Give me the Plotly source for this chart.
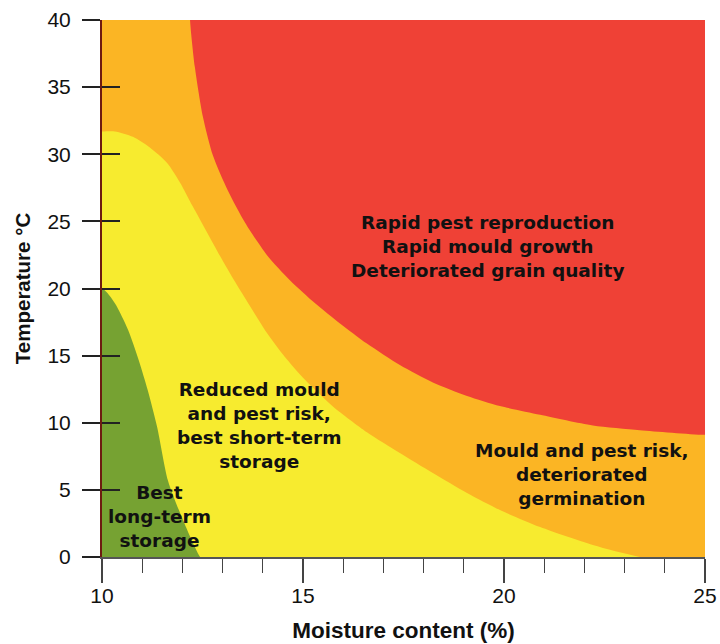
import plotly.graph_objects as go

# Zone boundaries (moisture %, temperature °C)
green_x = [10.0, 10.32, 10.65, 10.92, 11.14, 11.37, 11.64, 11.94, 12.44]
green_y = [20.0, 18.9, 16.9, 14.6, 12.4, 9.7, 5.7, 3.3, 0.0]

yellow_x = [10.0, 10.32, 10.77, 11.19, 11.62, 11.94, 12.26, 12.59, 12.94, 13.31, 13.68,
            14.10, 14.55, 15.05, 15.75, 16.59, 17.41, 18.23, 19.08, 19.90, 20.90, 22.21, 23.38]
yellow_y = [31.7, 31.7, 31.3, 30.5, 29.35, 27.9, 26.1, 24.3, 22.4, 20.5, 18.7,
            16.7, 14.9, 13.2, 11.2, 9.3, 7.75, 6.26, 4.77, 3.50, 2.23, 0.89, 0.0]

red_x = [12.19, 12.31, 12.51, 12.76, 13.13, 13.56, 14.10, 14.68, 15.30, 15.92, 16.59,
         17.41, 18.23, 19.08, 19.90, 20.90, 22.21, 23.38, 25.0]
red_y = [40.0, 36.5, 32.8, 29.9, 27.3, 24.9, 22.5, 20.6, 18.9, 17.4, 15.9,
         14.3, 13.0, 12.0, 11.25, 10.6, 9.8, 9.45, 9.1]

x_min, x_max = 10, 25
y_min, y_max = 0, 40
x_ticks = [10, 15, 20, 25]
y_ticks = [0, 5, 10, 15, 20, 25, 30, 35, 40]

ORANGE = "#FBB524"
YELLOW = "#F7EB2F"
GREEN = "#76A232"
RED = "#EF4136"

zone_labels = [
    ("Rapid pest reproduction<br>Rapid mould growth<br>Deteriorated grain quality", 19.6, 23.1),
    ("Reduced mould<br>and pest risk,<br>best short-term<br>storage", 13.9, 9.8),
    ("Mould and pest risk,<br>deteriorated<br>germination", 21.94, 6.18),
    ("Best<br>long-term<br>storage", 11.44, 2.98),
]

FONT = "Liberation Sans, Arial, sans-serif"
LABEL_FONT = "DejaVu Sans, Liberation Sans, Arial, sans-serif"
o = 1.5  # offset for closing points outside the visible area

fig = go.Figure()
# orange base region
fig.add_trace(go.Scatter(x=[x_min, x_max, x_max, x_min, x_min], y=[y_min, y_min, y_max, y_max, y_min],
                         fill="toself", fillcolor=ORANGE, mode="none", hoverinfo="skip"))
# yellow region
fig.add_trace(go.Scatter(
    x=[x_min - o] + yellow_x + [x_max + o, x_min - o, x_min - o],
    y=[yellow_y[0]] + yellow_y + [y_min - o, y_min - o, yellow_y[0]],
    fill="toself", fillcolor=YELLOW, mode="lines",
    line=dict(width=0, shape="spline", smoothing=0.7), hoverinfo="skip"))
# green region
fig.add_trace(go.Scatter(
    x=[x_min - o] + green_x + [green_x[-1] + 0.4, x_min - o, x_min - o],
    y=[green_y[0]] + green_y + [y_min - o, y_min - o, green_y[0]],
    fill="toself", fillcolor=GREEN, mode="lines",
    line=dict(width=0, shape="spline", smoothing=0.7), hoverinfo="skip"))
# red region
fig.add_trace(go.Scatter(
    x=[red_x[0]] + red_x + [x_max + o, x_max + o, red_x[0]],
    y=[y_max + o] + red_y + [red_y[-1], y_max + o, y_max + o],
    fill="toself", fillcolor=RED, mode="lines",
    line=dict(width=0, shape="spline", smoothing=0.7), hoverinfo="skip"))
# dummy trace for inside-tick overlay axis
fig.add_trace(go.Scatter(x=[None], y=[None], yaxis="y2", showlegend=False, hoverinfo="skip"))

for text, x, y in zone_labels:
    fig.add_annotation(x=x, y=y, text=text, showarrow=False, align="center",
                       font=dict(family=LABEL_FONT, size=18.5, color="#111", weight="bold"),
                       xanchor="center", yanchor="middle")

font = dict(family=FONT, color="#111")
fig.update_layout(
    width=720, height=644,
    margin=dict(l=102, r=15, t=20, b=87),
    paper_bgcolor="white", plot_bgcolor="white",
    showlegend=False,
    xaxis=dict(range=[x_min, x_max], tickvals=x_ticks, ticks="outside", ticklen=24, tickwidth=1.5,
               tickcolor="#444", showgrid=False, zeroline=False, showline=True, linecolor="#555", linewidth=2,
               tickfont=dict(size=21, **font), ticklabelstandoff=-5, automargin=False,
               ticklabeloverflow="allow",
               minor=dict(dtick=1, ticks="outside", ticklen=14, tickwidth=1.2, tickcolor="#444", showgrid=False),
               title=dict(text="<b>Moisture content (%)</b>", font=dict(size=22.5, **font), standoff=16)),
    yaxis=dict(range=[y_min, y_max], tickvals=y_ticks, ticks="outside", ticklen=18, tickwidth=1.5,
               tickcolor="#222", showgrid=False, zeroline=False, showline=True, linecolor="#6e1a10", linewidth=2,
               tickfont=dict(size=21, **font), ticklabelstandoff=7, automargin=False,
               ticklabeloverflow="allow",
               title=dict(text="<b>Temperature °C</b>", font=dict(size=20.5, **font), standoff=11)),
    yaxis2=dict(range=[y_min, y_max], tickvals=y_ticks, overlaying="y", side="left", anchor="x",
                ticks="inside", ticklen=18, tickwidth=1.5, tickcolor="#222", showticklabels=False,
                showgrid=False, zeroline=False, showline=False, automargin=False),
)

fig.write_html("out.html", config={"displayModeBar": False},
               post_script="document.body.style.margin='0';document.body.style.overflow='hidden';")
